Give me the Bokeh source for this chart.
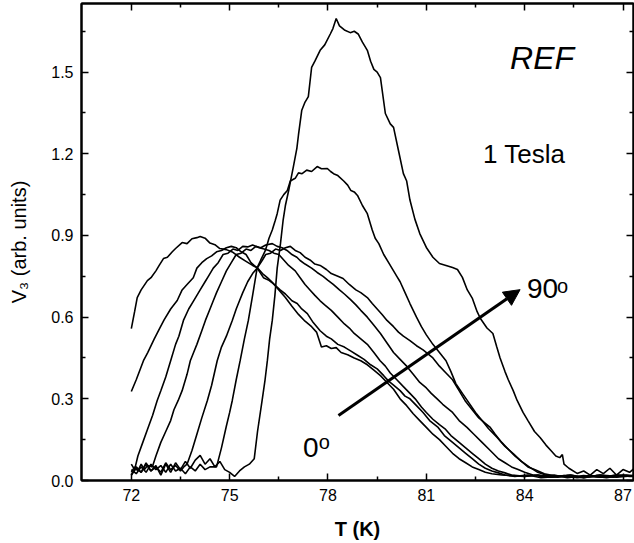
from bokeh.plotting import figure
from bokeh.models import (Label, Arrow, NormalHead, FixedTicker, LinearAxis,
                          PrintfTickFormatter, Range1d)
from bokeh.embed import file_html
from bokeh.resources import INLINE

# ---- data ----
x_ticks = [72, 75, 78, 81, 84, 87]
x_minor = [73.5, 76.5, 79.5, 82.5, 85.5]
y_ticks = [0.0, 0.3, 0.6, 0.9, 1.2, 1.5]
y_minor = [0.15, 0.45, 0.75, 1.05, 1.35, 1.65]

t_0 = [72.0, 72.1, 72.18, 72.3, 72.49, 72.6, 72.75, 72.85, 72.98, 73.1, 73.25, 73.35, 73.55, 73.7, 73.85, 74.0,
       74.1, 74.25, 74.4, 74.55, 74.7, 74.9, 75.1, 75.3, 75.5, 75.7, 75.84, 76.0, 76.15, 76.3, 76.5, 76.7, 76.9,
       77.1, 77.3, 77.5, 77.65, 77.8, 77.95, 78.1, 78.25, 78.4, 78.6, 78.8, 79.0, 79.2, 79.4, 79.6, 79.8, 80.0,
       80.2, 80.4, 80.6, 80.8, 81.0, 81.2, 81.4, 81.6, 81.8, 82.0, 82.2, 82.4, 82.6, 82.8, 83.0, 83.3, 83.6, 84.0,
       84.4, 84.8, 85.2, 85.6, 86.0, 86.4, 86.8, 87.2, 87.4]
v_0 = [.558, .62, .672, .70, .734, .745, .77, .79, .815, .82, .84, .852, .874, .870, .888, .892,
       .896, .890, .872, .866, .852, .848, .838, .82, .805, .79, .782, .76, .745, .728, .70, .672, .64,
       .61, .585, .565, .545, .49, .495, .485, .488, .47, .462, .45, .44, .425, .405, .385, .36, .335,
       .30, .275, .245, .22, .195, .17, .15, .125, .10, .08, .065, .05, .04, .03, .025, .02, .018, .015,
       .02, .012, .018, .01, .015, .012, .02, .015, .015]

t_15 = [72.0, 72.15, 72.37, 72.5, 72.7, 72.88, 73.0, 73.2, 73.4, 73.55, 73.7, 73.89, 74.0, 74.15, 74.3, 74.45,
        74.6, 74.75, 74.9, 75.05, 75.2, 75.35, 75.5, 75.65, 75.84, 76.03, 76.2, 76.33, 76.54, 76.7, 76.9, 77.06,
        77.2, 77.37, 77.55, 77.76, 77.95, 78.1, 78.3, 78.5, 78.7, 78.9, 79.1, 79.3, 79.5, 79.7, 79.85, 80.0,
        80.2, 80.35, 80.5, 80.7, 80.9, 81.1, 81.36, 81.55, 81.8, 82.0, 82.2, 82.4, 82.6, 82.8, 83.0, 83.2,
        83.4, 83.7, 84.1, 84.5, 85.0, 85.5, 86.0, 86.5, 87.0, 87.4]
v_15 = [.327, .37, .44, .47, .52, .562, .59, .63, .661, .70, .72, .745, .78, .80, .815, .825,
        .84, .845, .855, .86, .855, .84, .83, .80, .78, .745, .735, .723, .70, .685, .66, .65,
        .63, .613, .58, .55, .53, .52, .50, .49, .475, .46, .445, .425, .41, .385, .365, .35,
        .33, .31, .30, .275, .25, .22, .195, .165, .14, .12, .10, .08, .06, .045, .035, .028,
        .02, .015, .02, .01, .015, .012, .018, .01, .02, .015]

t_30 = [72.0, 72.1, 72.2, 72.35, 72.5, 72.65, 72.79, 72.9, 73.05, 73.2, 73.35, 73.45, 73.59, 73.75, 73.9, 74.0,
        74.1, 74.25, 74.35, 74.5, 74.65, 74.8, 74.95, 75.1, 75.25, 75.4, 75.55, 75.7, 75.9, 76.05, 76.2, 76.35,
        76.5, 76.65, 76.8, 77.0, 77.15, 77.3, 77.45, 77.6, 77.76, 77.9, 78.1, 78.3, 78.5, 78.65, 78.8, 79.0,
        79.2, 79.4, 79.59, 79.75, 79.9, 80.1, 80.3, 80.5, 80.66, 80.85, 81.0, 81.2, 81.4, 81.57, 81.75, 82.0,
        82.2, 82.4, 82.6, 82.8, 83.0, 83.2, 83.4, 83.6, 84.0, 84.4, 84.8, 85.3, 85.8, 86.3, 86.8, 87.4]
v_30 = [.06, .04, .09, .14, .19, .24, .294, .33, .38, .44, .50, .53, .588, .63, .66, .68,
        .70, .73, .75, .78, .80, .83, .835, .85, .845, .86, .858, .865, .855, .85, .845, .835,
        .83, .81, .79, .77, .745, .72, .70, .68, .66, .645, .625, .60, .575, .56, .54, .52,
        .50, .47, .44, .42, .395, .37, .345, .32, .30, .27, .25, .225, .205, .19, .165, .14,
        .12, .10, .08, .06, .045, .035, .028, .02, .015, .02, .012, .018, .01, .02, .012, .018]

t_45 = [72.0, 72.1, 72.2, 72.3, 72.4, 72.5, 72.64, 72.75, 72.9, 73.05, 73.2, 73.3, 73.43, 73.55, 73.7, 73.8,
        73.9, 74.0, 74.15, 74.26, 74.4, 74.5, 74.6, 74.75, 74.9, 75.05, 75.2, 75.35, 75.5, 75.65, 75.8, 75.95,
        76.1, 76.3, 76.45, 76.6, 76.75, 76.9, 77.05, 77.15, 77.3, 77.5, 77.67, 77.85, 78.0, 78.16, 78.35, 78.5,
        78.68, 78.85, 79.0, 79.2, 79.4, 79.6, 79.8, 80.0, 80.2, 80.4, 80.6, 80.8, 81.0, 81.15, 81.33, 81.5,
        81.65, 81.8, 82.0, 82.24, 82.45, 82.7, 82.95, 83.2, 83.4, 83.6, 83.8, 84.0, 84.25, 84.5, 84.9, 85.3,
        85.8, 86.3, 86.8, 87.4]
v_45 = [.03, .05, .035, .06, .04, .055, .05, .09, .14, .18, .22, .26, .294, .33, .39, .44,
        .47, .50, .55, .588, .63, .66, .69, .73, .77, .80, .83, .835, .85, .845, .86, .855,
        .865, .87, .86, .855, .845, .83, .82, .808, .795, .78, .764, .75, .735, .72, .70, .685,
        .665, .645, .625, .60, .57, .54, .505, .47, .445, .42, .39, .36, .34, .32, .30, .28,
        .265, .25, .22, .195, .17, .14, .11, .08, .065, .05, .04, .03, .02, .015, .02, .01,
        .018, .012, .02, .015]

t_60 = [72.0, 72.15, 72.3, 72.45, 72.6, 72.75, 72.9, 73.05, 73.2, 73.35, 73.5, 73.6, 73.7, 73.85, 74.0, 74.15,
        74.32, 74.45, 74.62, 74.75, 74.9, 75.08, 75.2, 75.3, 75.4, 75.55, 75.7, 75.84, 76.0, 76.1, 76.25, 76.4,
        76.55, 76.7, 76.85, 77.0, 77.15, 77.3, 77.45, 77.6, 77.76, 77.95, 78.1, 78.3, 78.46, 78.65, 78.85, 79.0,
        79.2, 79.35, 79.5, 79.65, 79.8, 80.0, 80.15, 80.3, 80.5, 80.7, 80.9, 81.05, 81.2, 81.4, 81.6, 81.8,
        82.0, 82.2, 82.4, 82.6, 82.8, 82.95, 83.1, 83.3, 83.5, 83.7, 83.9, 84.1, 84.3, 84.6, 85.0, 85.4,
        85.8, 86.3, 86.8, 87.4]
v_60 = [.02, .045, .03, .06, .035, .05, .03, .065, .04, .055, .035, .05, .06, .11, .17, .23,
        .294, .35, .44, .49, .53, .588, .63, .66, .69, .73, .76, .78, .81, .83, .835, .85,
        .845, .855, .86, .845, .837, .82, .81, .795, .79, .775, .76, .75, .742, .72, .70, .69,
        .672, .65, .63, .61, .588, .565, .545, .53, .514, .495, .48, .465, .45, .42, .395, .37,
        .33, .29, .26, .23, .21, .195, .17, .14, .115, .09, .07, .05, .04, .025, .015, .02,
        .012, .02, .015, .02]

t_75 = [72.0, 72.15, 72.3, 72.45, 72.6, 72.75, 72.9, 73.05, 73.2, 73.35, 73.5, 73.65, 73.8, 73.95, 74.1, 74.25,
        74.4, 74.6, 74.75, 74.9, 75.0, 75.08, 75.2, 75.32, 75.45, 75.57, 75.7, 75.84, 75.95, 76.09, 76.2, 76.3,
        76.39, 76.45, 76.54, 76.65, 76.76, 76.85, 77.0, 77.1, 77.21, 77.35, 77.5, 77.67, 77.8, 77.98, 78.08, 78.17,
        78.3, 78.48, 78.6, 78.7, 78.8, 78.9, 79.05, 79.2, 79.35, 79.44, 79.55, 79.7, 79.85, 80.0, 80.1, 80.2,
        80.35, 80.5, 80.7, 80.85, 81.0, 81.2, 81.4, 81.6, 81.75, 81.9, 82.1, 82.3, 82.5, 82.7, 82.9, 83.16,
        83.4, 83.65, 83.9, 84.16, 84.4, 84.68, 85.0, 85.4, 85.8, 86.2, 86.7, 87.1, 87.4]
v_75 = [.04, .025, .05, .03, .06, .04, .055, .03, .06, .035, .045, .025, .05, .035, .06, .04,
        .05, .05, .12, .20, .25, .294, .37, .44, .52, .588, .68, .782, .81, .845, .89, .92,
        .955, .98, 1.03, 1.05, 1.065, 1.10, 1.11, 1.13, 1.127, 1.14, 1.135, 1.153, 1.145, 1.146, 1.135, 1.127,
        1.12, 1.10, 1.085, 1.065, 1.06, 1.047, 1.01, .98, .92, .89, .87, .83, .80, .77, .75, .73,
        .69, .65, .60, .565, .535, .50, .47, .44, .40, .356, .32, .285, .25, .22, .19, .158,
        .125, .099, .07, .048, .03, .018, .012, .02, .01, .018, .012, .02, .015]

t_90 = [72.0, 72.15, 72.3, 72.45, 72.6, 72.75, 72.9, 73.05, 73.2, 73.35, 73.5, 73.65, 73.8, 73.95, 74.1, 74.25,
        74.4, 74.55, 74.7, 74.85, 75.0, 75.15, 75.3, 75.45, 75.6, 75.75, 75.85, 75.99, 76.08, 76.15, 76.22, 76.3,
        76.38, 76.45, 76.55, 76.63, 76.7, 76.8, 76.94, 77.05, 77.1, 77.2, 77.3, 77.4, 77.5, 77.6, 77.76, 77.9,
        78.07, 78.15, 78.25, 78.35, 78.5, 78.68, 78.8, 78.92, 79.05, 79.2, 79.3, 79.4, 79.5, 79.6, 79.75, 79.9,
        80.0, 80.15, 80.3, 80.4, 80.5, 80.65, 80.8, 81.0, 81.2, 81.4, 81.6, 81.8, 81.95, 82.1, 82.25, 82.4,
        82.55, 82.65, 82.85, 83.03, 83.15, 83.25, 83.4, 83.5, 83.65, 83.77, 83.95, 84.1, 84.3, 84.47, 84.65, 84.8,
        84.95, 85.07, 85.15, 85.2, 85.35, 85.6, 85.8, 86.0, 86.2, 86.4, 86.6, 86.8, 87.0, 87.2, 87.4]
v_90 = [.02, .05, .03, .065, .035, .055, .02, .06, .03, .065, .04, .07, .045, .075, .092, .06,
        .08, .05, .07, .04, .03, .015, .035, .05, .06, .08, .18, .294, .37, .44, .52, .588,
        .68, .78, .87, .955, 1.01, 1.065, 1.15, 1.22, 1.27, 1.36, 1.39, 1.41, 1.517, 1.54, 1.58, 1.60,
        1.64, 1.66, 1.697, 1.67, 1.655, 1.645, 1.65, 1.64, 1.61, 1.58, 1.54, 1.51, 1.50, 1.48, 1.348, 1.31,
        1.297, 1.212, 1.127, 1.10, 1.03, .96, .907, .856, .82, .797, .79, .782, .775, .746, .70, .67,
        .62, .595, .56, .54, .49, .45, .40, .37, .33, .294, .25, .22, .18, .158, .13, .11,
        .09, .084, .095, .06, .045, .026, .035, .02, .04, .025, .045, .02, .04, .03, .05]

curves_t = [t_0, t_15, t_30, t_45, t_60, t_75, t_90]
curves_v = [v_0, v_15, v_30, v_45, v_60, v_75, v_90]

# ---- figure ----
FONT = "Liberation Sans"
p = figure(width=634, height=543, x_range=Range1d(70.48, 87.32), y_range=Range1d(0.0, 1.752),
           output_backend="svg", toolbar_location=None,
           min_border_left=81, min_border_right=1, min_border_top=3, min_border_bottom=63)
p.grid.visible = False
p.outline_line_color = "black"
p.outline_line_width = 2

for tt, vv in zip(curves_t, curves_v):
    p.line(tt, vv, line_color="black", line_width=1.6)


def style_axis(ax, ticks, minor, labels=True):
    ax.ticker = FixedTicker(ticks=ticks, minor_ticks=minor)
    ax.axis_line_color = "black"
    ax.axis_line_width = 2
    ax.major_tick_in = 7
    ax.major_tick_out = 0
    ax.minor_tick_in = 4
    ax.minor_tick_out = 0
    ax.major_tick_line_color = "black"
    ax.minor_tick_line_color = "black"
    ax.major_tick_line_width = 1.5
    ax.minor_tick_line_width = 1.5
    ax.major_label_text_font = FONT
    ax.major_label_text_font_size = "16px"
    ax.major_label_text_color = "black"
    ax.major_label_standoff = 8
    if not labels:
        ax.major_label_overrides = {t: "" for t in ticks}
        ax.major_label_standoff = 0


xa = p.xaxis[0]
style_axis(xa, x_ticks, x_minor)
xa.axis_label = "T (K)"
xa.axis_label_text_font = FONT
xa.axis_label_text_font_size = "20px"
xa.axis_label_text_font_style = "bold"
xa.axis_label_text_color = "black"
xa.axis_label_standoff = 14

ya = p.yaxis[0]
style_axis(ya, y_ticks, y_minor)
ya.formatter = PrintfTickFormatter(format="%.1f")
ya.axis_label = "V₃ (arb. units)"
ya.axis_label_text_font = FONT
ya.axis_label_text_font_size = "20px"
ya.axis_label_text_font_style = "normal"
ya.axis_label_text_color = "black"
ya.axis_label_standoff = 18

top = LinearAxis()
style_axis(top, x_ticks, x_minor, labels=False)
p.add_layout(top, "above")
right = LinearAxis()
style_axis(right, y_ticks, y_minor, labels=False)
p.add_layout(right, "right")

# annotations
p.add_layout(Label(x=83.555, y=1.553, text="REF", text_font=FONT, text_font_size="32px",
                   text_font_style="italic", text_baseline="alphabetic", text_color="black"))
p.add_layout(Label(x=82.73, y=1.20, text="1 Tesla", text_font=FONT, text_font_size="26px",
                   text_baseline="alphabetic", text_color="black"))
p.add_layout(Label(x=84.07, y=0.705, text="90", text_font=FONT, text_font_size="28px",
                   text_baseline="alphabetic", text_color="black"))
p.add_layout(Label(x=84.99, y=0.716, text="o", text_font=FONT, text_font_size="20px",
                   text_baseline="alphabetic", text_color="black"))
p.add_layout(Label(x=77.24, y=0.121, text="0", text_font=FONT, text_font_size="28px",
                   text_baseline="alphabetic", text_color="black"))
p.add_layout(Label(x=77.72, y=0.143, text="o", text_font=FONT, text_font_size="20px",
                   text_baseline="alphabetic", text_color="black"))

p.add_layout(Arrow(end=NormalHead(size=16, fill_color="black", line_color="black"),
                   x_start=78.32, y_start=0.239, x_end=83.86, y_end=0.701,
                   line_width=3, line_color="black"))

open("out.html", "w").write(file_html(p, INLINE))
